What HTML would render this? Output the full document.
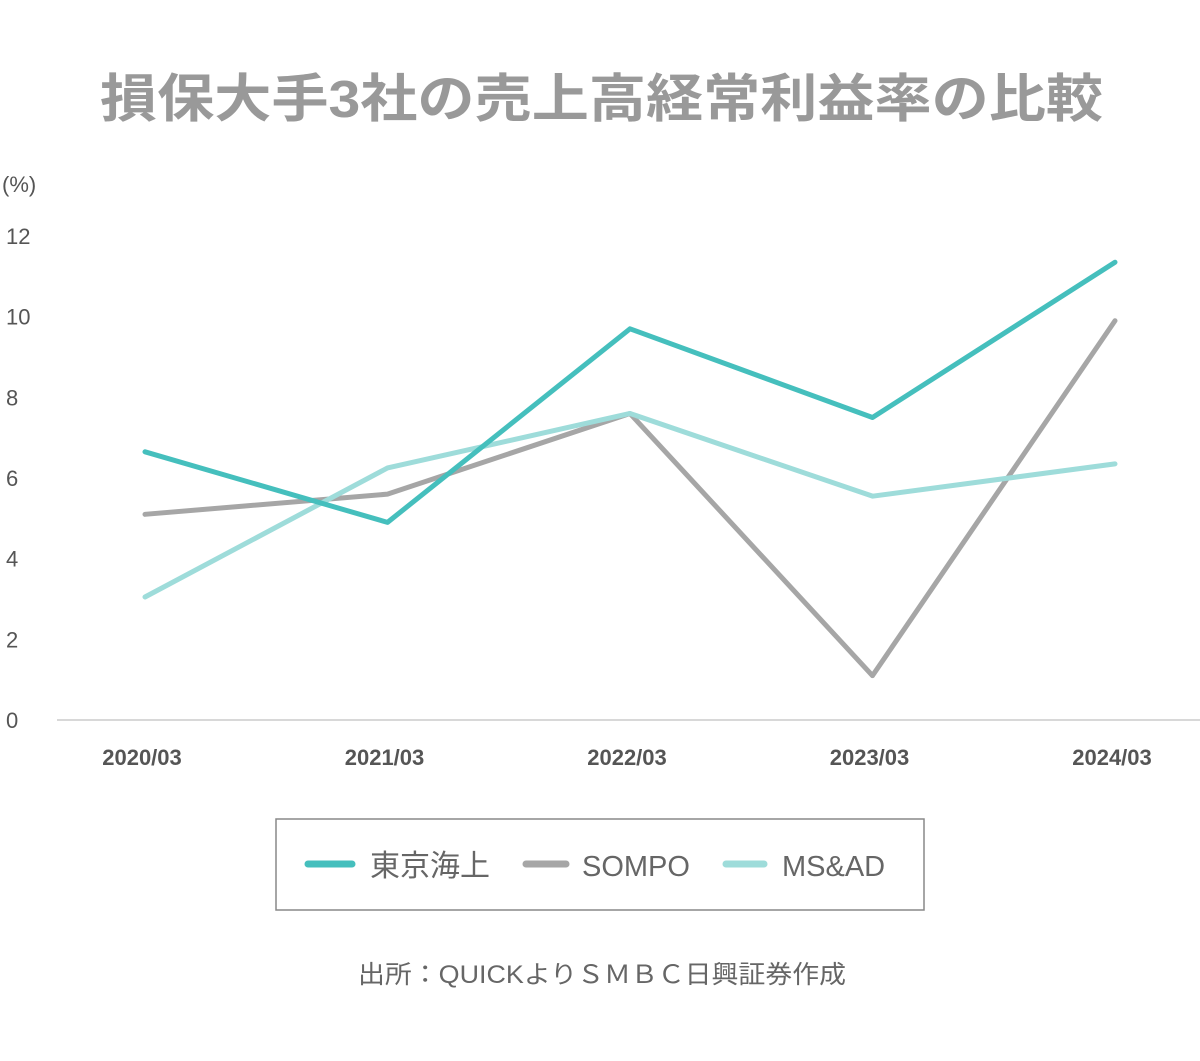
<!DOCTYPE html>
<html><head><meta charset="utf-8"><style>
body{margin:0;background:#fff;width:1200px;height:1056px;overflow:hidden;font-family:"Liberation Sans","Noto Sans CJK JP",sans-serif}
</style></head><body>
<svg id="c" width="1200" height="1056" xmlns="http://www.w3.org/2000/svg">
<text x="100" y="117" textLength="1003" lengthAdjust="spacingAndGlyphs" font-size="52" font-weight="bold" fill="#999" font-family="Liberation Sans, Noto Sans CJK JP, sans-serif">損保大手3社の売上高経常利益率の比較</text>
<text x="2" y="192" font-size="22" fill="#555">(%)</text>
<line x1="57" y1="720" x2="1200" y2="720" stroke="#ccc" stroke-width="1.5"/>
<g id="yt"></g><g id="xt"></g><g id="lines"></g>
<rect x="276" y="819" width="648" height="91" fill="none" stroke="#888" stroke-width="1.5"/>
<g><line x1="308" y1="864" x2="352" y2="864" stroke="#45bfbd" stroke-width="7" stroke-linecap="round"/><text x="370" y="876" font-size="30" fill="#666">東京海上</text></g>
<g><line x1="526" y1="864" x2="566" y2="864" stroke="#a6a6a6" stroke-width="7" stroke-linecap="round"/><text x="582" y="876" font-size="29" fill="#666">SOMPO</text></g>
<g><line x1="726" y1="864" x2="764" y2="864" stroke="#9edcda" stroke-width="7" stroke-linecap="round"/><text x="782" y="876" font-size="29" fill="#666">MS&amp;AD</text></g>
<text x="358" y="983" textLength="488" lengthAdjust="spacingAndGlyphs" font-size="25" fill="#666">出所：QUICKよりＳＭＢＣ日興証券作成</text>
</svg>
<script>
const categories=["2020/03","2021/03","2022/03","2023/03","2024/03"];
const tokio=[6.65,4.9,9.7,7.5,11.35];
const sompo=[5.1,5.6,7.6,1.1,9.9];
const msad=[3.05,6.25,7.6,5.55,6.35];
const yTicks=[0,2,4,6,8,10,12];
const NS="http://www.w3.org/2000/svg";
const y=v=>720-v*40.33;
const x=i=>145+i*242.5;
const yt=document.getElementById('yt'),xt=document.getElementById('xt'),lg=document.getElementById('lines');
yTicks.forEach(t=>{const e=document.createElementNS(NS,'text');e.setAttribute('x',6);e.setAttribute('y',y(t)+8);e.setAttribute('font-size','22');e.setAttribute('fill','#555');e.textContent=t;


yt.appendChild(e);});
categories.forEach((c,i)=>{const e=document.createElementNS(NS,'text');e.setAttribute('x',x(i)-3);e.setAttribute('y',765);e.setAttribute('text-anchor','middle');e.setAttribute('font-size','22');e.setAttribute('font-weight','bold');e.setAttribute('fill','#555');e.textContent=c;


xt.appendChild(e);});
[[sompo,'#a6a6a6','sompo-line'],[msad,'#9edcda','msad-line'],[tokio,'#45bfbd','tokio-line']].forEach(([d,col,n])=>{const p=document.createElementNS(NS,'polyline');p.setAttribute('points',d.map((v,i)=>x(i)+','+y(v)).join(' '));p.setAttribute('fill','none');p.setAttribute('stroke',col);p.setAttribute('stroke-width','5');p.setAttribute('stroke-linecap','round');p.setAttribute('stroke-linejoin','round');


lg.appendChild(p);});
</script>
</body></html>
